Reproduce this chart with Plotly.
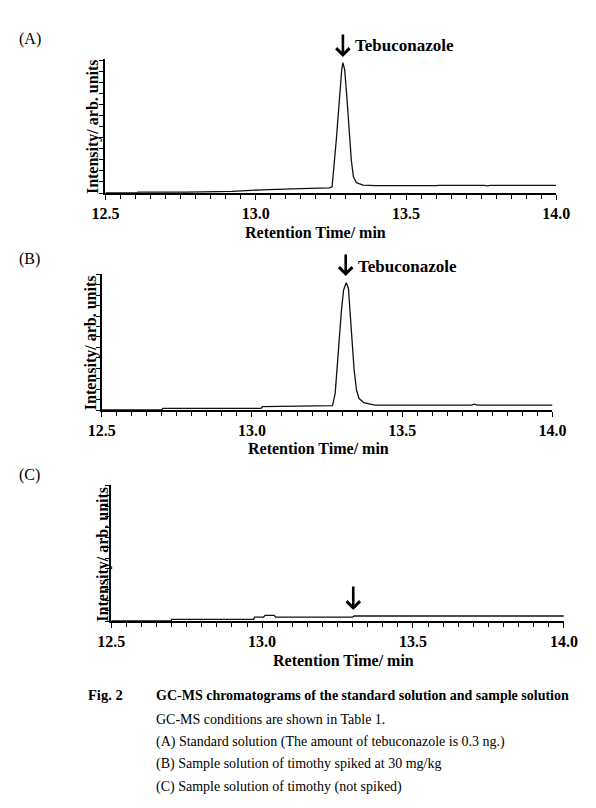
import plotly.graph_objects as go

# ---------------- data ----------------
time_a = [12.50, 12.607, 12.608, 12.77, 12.92, 12.98, 13.02, 13.12, 13.22, 13.245,
          13.254, 13.261, 13.268, 13.275, 13.280, 13.286, 13.290, 13.296, 13.303,
          13.311, 13.318, 13.325, 13.335, 13.357, 13.40, 13.60, 13.61, 13.76, 13.77,
          13.78, 14.0]
int_a = [0.0, 0.0, 0.7, 0.7, 1.3, 2.1, 2.4, 3.1, 3.8, 4.0,
         4.8, 20.2, 40.7, 61.4, 79.0, 94.4, 100.0, 94.4, 73.9,
         48.3, 25.3, 12.5, 7.9, 6.1, 5.6, 5.6, 5.9, 5.9, 5.5,
         5.9, 5.9]

time_b = [12.50, 12.70, 12.703, 13.03, 13.035, 13.26, 13.268, 13.277, 13.284, 13.290,
          13.298, 13.305, 13.314, 13.321, 13.326, 13.333, 13.340, 13.348, 13.356,
          13.372, 13.409, 13.73, 13.74, 13.75, 14.0]
int_b = [0.0, 0.0, 1.3, 1.3, 2.6, 3.0, 3.4, 13.1, 34.0, 57.6,
         78.6, 94.3, 100.0, 95.6, 78.6, 55.0, 31.4, 15.7, 9.2,
         5.7, 3.9, 3.9, 4.6, 3.9, 3.9]

time_c = [12.50, 12.699, 12.70, 12.972, 12.975, 13.005, 13.01, 13.04, 13.045, 13.30,
          13.305, 14.0]
int_c = [0.0, 0.0, 1.3, 1.3, 3.0, 3.0, 4.3, 4.3, 3.0, 3.0,
         3.8, 3.8]

arrow_times = [13.290, 13.312, 13.302]
compound = "Tebuconazole"
panel_labels = ["(A)", "(B)", "(C)"]
x_title = "Retention Time/ min"
y_title = "Intensity/ arb. units"
x_ticks = [12.5, 13.0, 13.5, 14.0]
caption_head = "Fig. 2"
caption_title = "GC-MS chromatograms of the standard solution and sample solution"
caption_lines = [
    "GC-MS conditions are shown in Table 1.",
    "(A) Standard solution (The amount of tebuconazole is 0.3 ng.)",
    "(B) Sample solution of timothy spiked at 30 mg/kg",
    "(C) Sample solution of timothy (not spiked)",
]

# ---------------- layout helpers ----------------
W, H = 596, 808
SERIF = "Liberation Serif"


def px(x):
    return x / W


def py(y):
    return 1 - y / H


# pixel boxes: (left, right, top, bottom)
boxes = [(96, 569, 59, 193), (92, 565, 274, 410), (102, 577, 485, 621)]
y_ranges = [[0, 102.8], [0, 106.8], [0, 103.0]]
y_dticks = [8.5, 8.2, 7.9]

fig = go.Figure()
series = [(time_a, int_a), (time_b, int_b), (time_c, int_c)]

layout = dict(
    width=W, height=H,
    margin=dict(l=0, r=0, t=0, b=0),
    paper_bgcolor="white", plot_bgcolor="white",
    showlegend=False,
    font=dict(family=SERIF, color="black"),
)

for i, ((t, v), (l, r, top, bot)) in enumerate(zip(series, boxes)):
    n = "" if i == 0 else str(i + 1)
    fig.add_trace(go.Scatter(x=t, y=v, mode="lines",
                             line=dict(color="#111111", width=1.3),
                             xaxis="x" + n, yaxis="y" + n, hoverinfo="skip"))
    layout["xaxis" + n] = dict(
        domain=[px(l), px(r)], anchor="y" + n, range=[12.5, 14.0],
        tickvals=x_ticks, tickformat=".1f",
        ticks="outside", ticklen=5, tickwidth=1.3, tickcolor="black",
        minor=dict(dtick=0.05, tick0=12.5, ticks="outside", ticklen=4,
                   tickwidth=1.2, tickcolor="black", showgrid=False),
        showline=True, linecolor="black", linewidth=2,
        showgrid=False, zeroline=False,
        tickfont=dict(family=SERIF, size=16, color="black", weight="bold"),
    )
    layout["yaxis" + n] = dict(
        domain=[py(bot), py(top)], anchor="x" + n, range=y_ranges[i],
        tick0=0, dtick=y_dticks[i], showticklabels=False,
        ticks="outside", ticklen=4, tickwidth=1.2, tickcolor="black",
        showline=True, linecolor="black", linewidth=2,
        showgrid=False, zeroline=False,
    )

fig.update_layout(**layout)

ann = []
# panel labels
for lab, yy in zip(panel_labels, [39, 259, 475]):
    ann.append(dict(text=lab, xref="paper", yref="paper", x=px(3), y=py(yy),
                    xanchor="left", yanchor="middle", showarrow=False,
                    font=dict(family=SERIF, size=16, color="black")))
# x titles
for (xx, yy) in [(316, 232), (320, 448), (346, 660)]:
    ann.append(dict(text=x_title, xref="paper", yref="paper", x=px(xx), y=py(yy),
                    xanchor="center", yanchor="middle", showarrow=False,
                    font=dict(family=SERIF, size=16, color="black", weight="bold")))
# y titles
for (xx, yy) in [(83, 127), (81, 343), (93, 554)]:
    ann.append(dict(text=y_title, xref="paper", yref="paper", x=px(xx), y=py(yy),
                    xanchor="center", yanchor="middle", showarrow=False, textangle=-90,
                    font=dict(family=SERIF, size=16, color="black", weight="bold")))
# arrows marking the compound
arrow_geo = [(57, 33), (276, 253), (610, 585)]
for i, (t0, (tip, tail)) in enumerate(zip(arrow_times, arrow_geo)):
    n = "" if i == 0 else str(i + 1)
    l, r, top, bot = boxes[i]
    ydom = (bot - tip) / (bot - top)
    ann.append(dict(text="", x=t0, y=ydom, xref="x" + n, yref="y" + n + " domain",
                    showarrow=True, ax=0, ay=-(tip - tail), arrowhead=4,
                    arrowsize=1.0, arrowwidth=2.6, arrowcolor="black"))
# compound labels
for (xx, yy) in [(356, 45), (359, 266)]:
    ann.append(dict(text=compound, xref="paper", yref="paper", x=px(xx), y=py(yy),
                    xanchor="left", yanchor="middle", showarrow=False,
                    font=dict(family=SERIF, size=17, color="black", weight="bold")))
# caption
ann.append(dict(text=caption_head, xref="paper", yref="paper", x=px(76), y=py(695),
                xanchor="left", yanchor="middle", showarrow=False,
                font=dict(family=SERIF, size=14.5, color="black", weight="bold")))
ann.append(dict(text=caption_title, xref="paper", yref="paper", x=px(147), y=py(695),
                xanchor="left", yanchor="middle", showarrow=False,
                font=dict(family=SERIF, size=14, color="black", weight="bold")))
for line, yy in zip(caption_lines, [719, 742, 764, 787]):
    ann.append(dict(text=line, xref="paper", yref="paper", x=px(147), y=py(yy),
                    xanchor="left", yanchor="middle", showarrow=False,
                    font=dict(family=SERIF, size=14, color="black")))

fig.update_layout(annotations=ann)
fig.write_html("out.html")
